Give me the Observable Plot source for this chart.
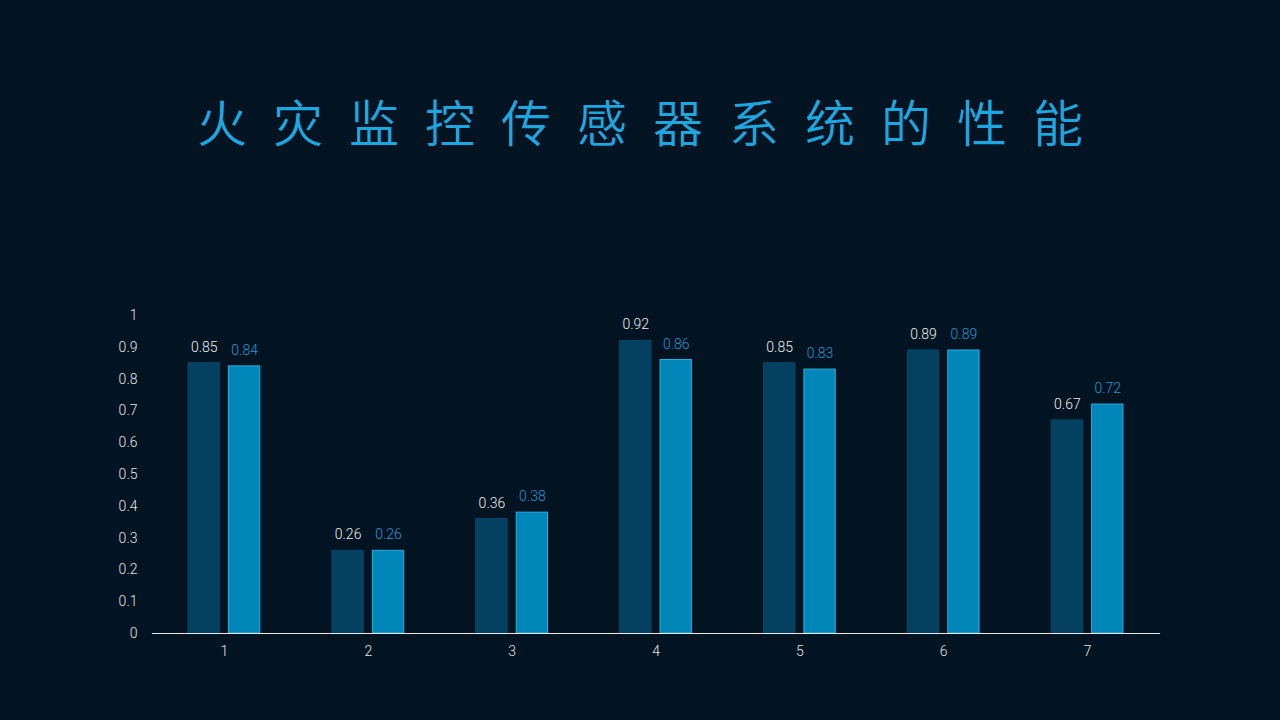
<!DOCTYPE html>
<html>
<head>
<meta charset="utf-8">
<script src="https://cdn.jsdelivr.net/npm/d3@7"></script>
<script src="https://cdn.jsdelivr.net/npm/@observablehq/plot@0.6"></script>
<style>
  html, body { margin: 0; padding: 0; background: #021322; }
  #wrap { position: relative; width: 1280px; height: 720px; overflow: hidden; background: #021322; }
  #title {
    position: absolute; top: 88px; left: 0; width: 1280px; text-align: center;
    font-family: "Noto Sans CJK SC", sans-serif; font-weight: 350;
    font-size: 50px; letter-spacing: 26px; text-indent: 26px; color: #1ba8e2; line-height: 64px;
  }
  #chart { position: absolute; top: 0; left: 0; }
</style>
</head>
<body>
<div id="wrap">
  <div id="title">火灾监控传感器系统的性能</div>
  <div id="chart"></div>
</div>
<script>
const categories = ["1", "2", "3", "4", "5", "6", "7"];
const seriesA = [0.85, 0.26, 0.36, 0.92, 0.85, 0.89, 0.67];
const seriesB = [0.84, 0.26, 0.38, 0.86, 0.83, 0.89, 0.72];
const seriesNames = ["A", "B"];
const yTicks = [0, 0.1, 0.2, 0.3, 0.4, 0.5, 0.6, 0.7, 0.8, 0.9, 1];

const data = [];
categories.forEach((c, i) => {
  data.push({cat: c, series: "A", value: seriesA[i]});
  data.push({cat: c, series: "B", value: seriesB[i]});
});

const chart = Plot.plot({
  width: 1280,
  height: 720,
  marginLeft: 152,
  marginRight: 121,
  marginTop: 315,
  marginBottom: 87,
  style: {background: "transparent", fontFamily: "Roboto, 'Noto Sans', sans-serif", fontSize: "14px", fontWeight: 300, color: "#e6e6e6"},
  fx: {domain: categories, padding: 0, round: false, label: null},
  x: {domain: seriesNames, paddingInner: 0.2, paddingOuter: 0.88, round: false, axis: null},
  y: {domain: [0, 1], ticks: yTicks, label: null},
  color: {domain: seriesNames, range: ["#04405f", "#0086b9"]},
  marks: [
    Plot.axisY({ticks: yTicks, tickSize: 0, tickPadding: 15, label: null, tickFormat: d => String(d), fill: "#e6e6e6", fontSize: 14, fontWeight: 300}),
    Plot.barY(data, {fx: "cat", x: "series", y: "value", fill: "series",
      stroke: d => d.series === "A" ? "#06476a" : "#2aaee3", strokeWidth: 1, insetLeft: 0.5, insetRight: 0.5}),
    Plot.text(data, {fx: "cat", x: "series", y: "value", text: d => String(d.value), dy: -16,
      fill: d => d.series === "A" ? "#f0f0f0" : "#1a9ad6", fontSize: 14, fontWeight: 300}),
    Plot.axisFx({tickSize: 0, tickPadding: 13, label: null, fill: "#e6e6e6", fontSize: 14, fontWeight: 300, anchor: "bottom"}),
    Plot.frame({anchor: "bottom", facet: "super", stroke: "#e8e8e8", strokeWidth: 1.2})
  ]
});
document.getElementById("chart").appendChild(chart);
</script>
</body>
</html>
